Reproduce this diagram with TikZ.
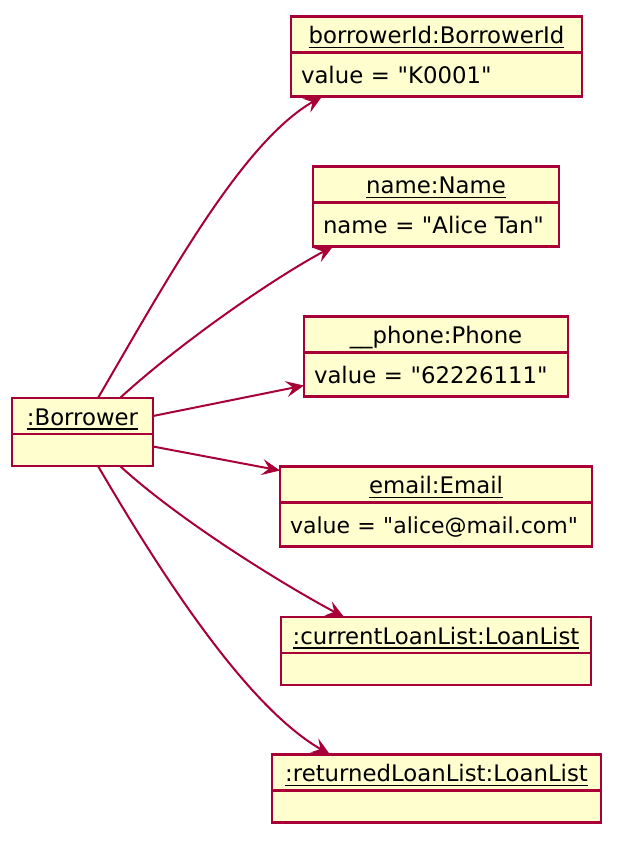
\documentclass[tikz,border=0pt]{standalone}
\usepackage{fontspec}
\newfontfamily\umlfont{DejaVu Sans}
\usetikzlibrary{positioning, arrows.meta}

\definecolor{umlred}{HTML}{A80036}
\definecolor{umlfill}{HTML}{FEFECE}

\newcommand{\objname}[1]{\setbox0\hbox{#1}\rlap{\rule[-4.6pt]{\wd0}{1.3pt}}\box0}

\begin{document}
\begin{tikzpicture}[x=1pt, y=-1pt,
	font=\umlfont\fontsize{22.8}{27}\selectfont,
	objhead/.style={draw=umlred, fill=umlfill, line width=2.3pt, outer sep=0pt,
		inner sep=0pt, minimum height=36pt, text height=18pt, text depth=0pt},
	objbody/.style={objhead, minimum height=44pt, inner xsep=10pt, align=left},
	objempty/.style={objhead, minimum height=32pt},
	link/.style={draw=umlred, line width=2pt,
		-{Stealth[length=18pt, width=16pt, inset=7pt]}}]
	\useasboundingbox (0,0) rectangle (620,842);

	\node[objhead, minimum width=141pt] (bor) at (82.5,416) {\objname{:Borrower}};
	\node[objempty, minimum width=141pt, below=0pt of bor] (borb) {};

	\node[objhead, minimum width=291pt] (id) at (436.5,34.5) {\objname{borrowerId:BorrowerId}};
	\node[objbody, text width=271pt, below=0pt of id] (idb) {\mbox{value = "K0001"}};

	\node[objhead, minimum width=246pt] (nm) at (436,184.5) {\objname{name:Name}};
	\node[objbody, text width=226pt, below=0pt of nm] (nmb) {\mbox{name = "Alice Tan"}};

	\node[objhead, minimum width=264pt] (ph) at (436,334.5) {\_\_phone:Phone};
	\node[objbody, text width=244pt, below=0pt of ph] (phb) {\mbox{value = "62226111"}};

	\node[objhead, minimum width=312pt] (em) at (436,484.5) {\objname{email:Email}};
	\node[objbody, text width=292pt, below=0pt of em, font=\umlfont\fontsize{22}{27}\selectfont] (emb) {\mbox{value = "alice@mail.com"}};

	\node[objhead, minimum width=310pt] (cur) at (436,635) {\objname{:currentLoanList:LoanList}};
	\node[objempty, minimum width=310pt, below=0pt of cur] (curb) {};

	\node[objhead, minimum width=329pt] (ret) at (436.5,772.5) {\objname{:returnedLoanList:LoanList}};
	\node[objempty, minimum width=329pt, below=0pt of ret] (retb) {};

	% links from the borrower
	\draw[link] ([xshift=15.5pt]bor.north) .. controls +(70,-120) and +(-80,46) .. ([xshift=31pt]idb.south west);
	\draw[link] ([xshift=37.5pt]bor.north) .. controls +(60,-55) and +(-60,32) .. ([xshift=20pt]nmb.south west);
	\draw[link] (bor.east) -- ([yshift=-11pt]phb.west);
	\draw[link] ([yshift=3.5pt]borb.east) -- ([yshift=14pt]em.west);
	\draw[link] ([xshift=37.5pt]borb.south) .. controls +(60,55) and +(-60,-32) .. ([xshift=63pt]cur.north west);
	\draw[link] ([xshift=15.5pt]borb.south) .. controls +(70,120) and +(-80,-46) .. ([xshift=58pt]ret.north west);
\end{tikzpicture}
\end{document}
